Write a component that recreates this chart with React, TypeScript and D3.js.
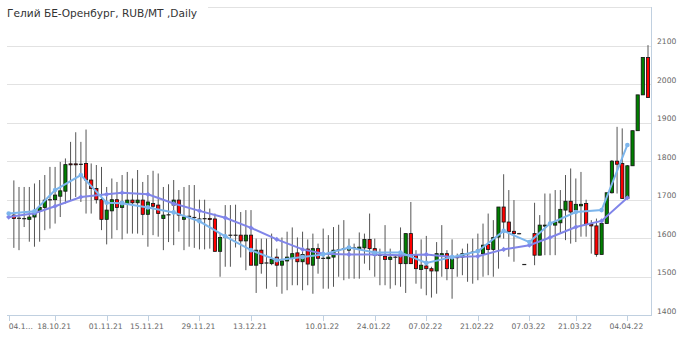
import React from "react";
import * as d3 from "d3";

const dates = [
  "04.10.21","05.10.21","06.10.21","07.10.21","08.10.21","11.10.21","12.10.21","13.10.21","14.10.21",
  "18.10.21","19.10.21","20.10.21","21.10.21","22.10.21","25.10.21","26.10.21","27.10.21","28.10.21","29.10.21",
  "01.11.21","02.11.21","03.11.21","08.11.21","09.11.21","10.11.21","11.11.21","12.11.21",
  "15.11.21","16.11.21","17.11.21","18.11.21","19.11.21","22.11.21","23.11.21","24.11.21","25.11.21","26.11.21",
  "29.11.21","30.11.21","01.12.21","02.12.21","03.12.21","06.12.21","07.12.21","08.12.21","09.12.21","10.12.21",
  "13.12.21","14.12.21","15.12.21","16.12.21","17.12.21","20.12.21","21.12.21","22.12.21","23.12.21","24.12.21",
  "27.12.21","28.12.21","29.12.21","30.12.21",
  "10.01.22","11.01.22","12.01.22","13.01.22","14.01.22","17.01.22","18.01.22","19.01.22","20.01.22","21.01.22",
  "24.01.22","25.01.22","26.01.22","27.01.22","28.01.22","31.01.22","01.02.22","02.02.22","03.02.22","04.02.22",
  "07.02.22","08.02.22","09.02.22","10.02.22","11.02.22","14.02.22","15.02.22","16.02.22","17.02.22","18.02.22",
  "21.02.22","22.02.22","23.02.22","24.02.22","25.02.22","28.02.22","01.03.22","02.03.22","03.03.22","04.03.22",
  "07.03.22","09.03.22","10.03.22","11.03.22","14.03.22","15.03.22","16.03.22","17.03.22","18.03.22",
  "21.03.22","22.03.22","23.03.22","24.03.22","25.03.22","28.03.22","29.03.22","30.03.22","31.03.22","01.04.22",
  "04.04.22","05.04.22","06.04.22","07.04.22","08.04.22"
];

const opens = [
  null,1660,1652,1651,1649,1655,1671,1680,1700,1700,1709,1722,1793,1793,1792,1794,1751,1729,1700,1649,
  1671,1700,1680,1690,1699,1692,1699,1662,1690,1686,1651,1661,1686,1699,1649,1657,1654,1650,1651,1651,
  1650,1566,1603,1608,1608,1608,1593,1608,1530,1569,1536,1534,1551,1530,1541,1547,1562,1539,1572,1530,
  1573,1548,1547,1551,1570,1573,1569,1575,1573,1575,1597,1573,1556,1553,1545,1551,1553,1534,1612,1556,
  1519,1528,1521,1515,1556,1560,1521,1550,1551,1560,1564,1569,1560,1584,1571,1603,1681,1642,1618,1612,
  1532,null,1612,1556,1632,1638,1634,1640,1673,1696,1673,1684,1690,1636,1632,1558,1638,1718,1800,1794,
  1703,1788,1879,1972,2069
];
const highs = [
  null,1750,1733,1733,1733,1742,1751,1764,1785,1785,1798,1807,1850,1875,1850,1882,1794,1790,1785,1733,
  1755,1746,1764,1772,1755,1777,1746,1764,1775,1768,1733,1740,1751,1725,1733,1738,1738,1700,1700,1677,
  1664,1612,1686,1686,1687,1668,1673,1673,1599,1599,1599,1612,1573,1602,1617,1628,1602,1617,1597,1612,
  1586,1625,1608,1629,1635,1647,1599,1586,1615,1612,1664,1599,1573,1634,1573,1556,1628,1612,1694,1569,
  1597,1606,1526,1590,1634,1569,1597,1560,1573,1586,1599,1612,1638,1664,1647,1681,1766,1725,1699,1614,
  1532,null,1692,1660,1716,1716,1725,1725,1764,1781,1755,1772,1700,1647,1651,1647,1718,1803,1889,1885,
  1790,1879,1972,2069,2101
];
const lows = [
  null,1575,1569,1629,1591,1578,1591,1621,1625,1638,1655,1690,1699,1707,1694,1664,1664,1690,1621,1584,
  1599,1621,1597,1612,1612,1612,1608,1578,1608,1604,1569,1590,1582,1617,1569,1578,1575,1571,1571,1573,
  1565,1500,1526,1526,1576,1550,1517,1530,1458,1508,1469,1530,1474,1456,1465,1478,1478,1465,1478,1456,
  1508,1469,1469,1474,1500,1491,1495,1495,1495,1534,1517,1500,1478,1478,1469,1478,1474,1458,1534,1482,
  1469,1452,1446,1456,1500,1491,1443,1500,1504,1487,1482,1491,1500,1504,1500,1521,1599,1552,1539,1610,
  1532,null,1530,1556,1556,1556,1556,1612,1595,1586,1590,1604,1604,1560,1552,1558,1638,1716,1716,1703,
  1703,1788,1879,1972,1965
];
const closes = [
  null,1651,1651,1651,1655,1664,1680,1699,1700,1712,1723,1791,1791,1791,1792,1751,1729,1700,1649,1673,
  1700,1680,1694,1699,1692,1699,1662,1694,1683,1664,1660,1661,1699,1660,1655,1657,1654,1650,1650,1649,
  1566,1602,1605,1608,1608,1593,1608,1530,1569,1534,1536,1545,1530,1541,1551,1560,1539,1558,1533,1573,
  1548,1548,1551,1569,1570,1573,1578,1575,1577,1597,1573,1556,1556,1545,1551,1551,1534,1612,1534,1521,
  1530,1521,1515,1560,1560,1521,1551,1550,1560,1560,1564,1569,1582,1571,1602,1681,1642,1617,1612,1612,
  1532,null,1556,1634,1634,1638,1642,1675,1696,1668,1688,1688,1636,1632,1558,1638,1718,1800,1792,1703,
  1788,1879,1972,2069,1965
];

const weekDates = [
  "04.10.21","11.10.21","18.10.21","25.10.21","01.11.21","08.11.21","15.11.21","22.11.21","29.11.21",
  "06.12.21","13.12.21","20.12.21","27.12.21","10.01.22","17.01.22","24.01.22","31.01.22","07.02.22",
  "14.02.22","21.02.22","28.02.22","07.03.22","14.03.22","21.03.22","28.03.22","04.04.22"
];
const fastLine = [
  1664,1670,1725,1764,1692,1691,1680,1667,1644,1605,1569,1543,1551,1558,1576,1563,1563,1536,1551,1566,
  1619,1590,1638,1668,1673,1842
];
const slowLine = [
  1655,1665,1683,1707,1714,1718,1714,1690,1671,1653,1627,1597,1571,1560,1558,1558,1556,1558,1551,1553,
  1571,1582,1602,1629,1645,1705
];

const tickDates = [
  "04.10.21","18.10.21","01.11.21","15.11.21","29.11.21","13.12.21","10.01.22","24.01.22",
  "07.02.22","21.02.22","07.03.22","21.03.22","04.04.22"
];
const yTicks = [1400, 1500, 1600, 1700, 1800, 1900, 2000, 2100];
const gridValues = [1500, 1600, 1700, 1800, 1900, 2000, 2100, 2200];

const title = "Гелий БЕ-Оренбург, RUB/MT ,Daily";

export default function App() {
  const W = 680, H = 338;
  const left = 7, right = 651.5, top = 7, bottom = 315.3;
  const x = d3.scalePoint<string>().domain(dates).range([8.7, 648]).padding(0);
  const y = d3.scaleLinear().domain([1400, 2200]).range([bottom, top]);
  const font = "'DejaVu Sans', sans-serif";

  const lineGen = d3.line<number>()
    .x((_, i) => x(weekDates[i]) as number)
    .y((v) => y(v));

  const bw = 4;

  return (
    <svg width={W} height={H} style={{ position: "absolute", left: 0, top: 0, background: "#fff" }}>
      {gridValues.map((g) => (
        <line key={g} x1={left} x2={right} y1={Math.round(y(g)) + 0.5} y2={Math.round(y(g)) + 0.5}
          stroke="#e2e2e2" strokeWidth={1} />
      ))}
      <line x1={right} x2={right} y1={top} y2={bottom} stroke="#c0d0e0" strokeWidth={1} />
      <line x1={left} x2={right + 0.5} y1={Math.round(bottom) + 0.5} y2={Math.round(bottom) + 0.5} stroke="#c0d0e0" strokeWidth={1} />
      {tickDates.map((d) => {
        const tx = Math.round(x(d) as number) + 0.5;
        return <line key={d} x1={tx} x2={tx} y1={Math.round(bottom) + 0.5} y2={321} stroke="#c0d0e0" strokeWidth={1} />;
      })}
      {tickDates.map((d, i) => {
        const tx = x(d) as number;
        const label = i === 0 ? d.slice(0, 4) + "..." : d;
        return (
          <text key={"l" + d} x={i === 0 ? tx : tx - 1} y={328.7} fontSize={7.6} fontFamily={font} fill="#666"
            textAnchor={i === 0 ? "start" : "middle"}>{label}</text>
        );
      })}
      {yTicks.map((t) => (
        <text key={"y" + t} x={657} y={y(t) - 1.5} fontSize={7.6} fontFamily={font} fill="#666">{t}</text>
      ))}
      {dates.map((d, i) => {
        const o = opens[i], h = highs[i], l = lows[i], c = closes[i];
        if (o == null || h == null || l == null || c == null) return null;
        const cx = x(d) as number;
        const yTop = y(Math.max(o, c));
        const yBot = y(Math.min(o, c));
        const up = c > o;
        const flat = Math.abs(c - o) < 1.5;
        return (
          <g key={d}>
            <line x1={cx} x2={cx} y1={y(h)} y2={y(l)} stroke="#555" strokeWidth={1} />
            {flat ? (
              <rect x={cx - bw / 2} y={yTop - 0.5} width={bw} height={1.2} fill="#222" />
            ) : (
              <rect x={cx - bw / 2 + 0.4} y={yTop} width={bw - 0.8} height={Math.max(1, yBot - yTop)}
                fill={up ? "#008000" : "#ff0000"} stroke="#111" strokeWidth={0.8} />
            )}
          </g>
        );
      })}
      <path d={lineGen(slowLine) || ""} fill="none" stroke="#8085e9" strokeWidth={2} />
      {slowLine.map((v, i) => {
        const px = x(weekDates[i]) as number, py = y(v);
        return <path key={"s" + i} d={`M${px},${py - 2.6}L${px + 2.6},${py}L${px},${py + 2.6}L${px - 2.6},${py}Z`} fill="#8085e9" />;
      })}
      <path d={lineGen(fastLine) || ""} fill="none" stroke="#7cb5ec" strokeWidth={2} />
      {fastLine.map((v, i) => (
        <circle key={"f" + i} cx={x(weekDates[i]) as number} cy={y(v)} r={2.3} fill="#7cb5ec" />
      ))}
      <rect x={0} y={0} width={208} height={20} fill="#fff" />
      <text x={7} y={16.6} fontSize={10.6} fontFamily={font} fill="#333">{title}</text>
    </svg>
  );
}
